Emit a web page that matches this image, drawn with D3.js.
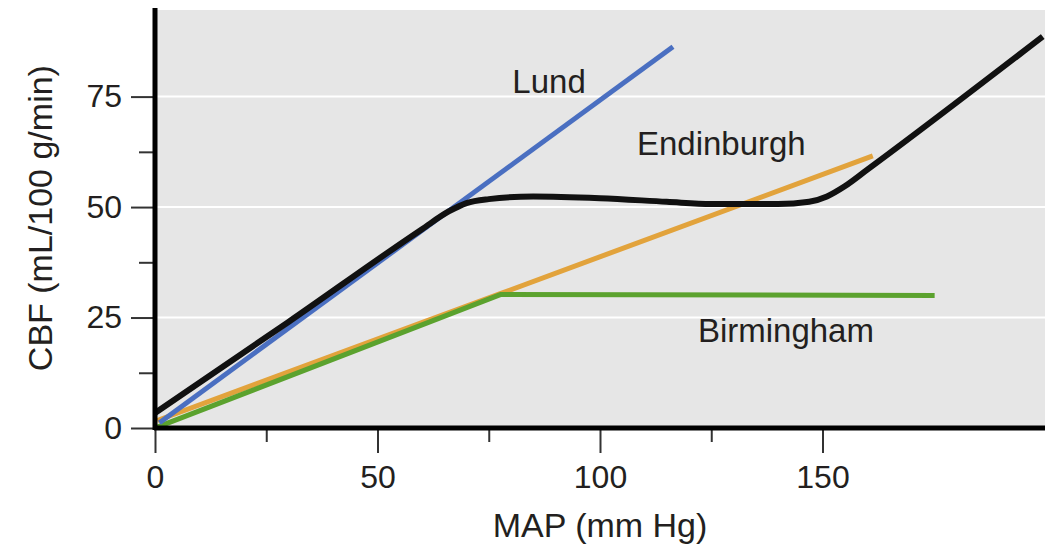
<!DOCTYPE html>
<html lang="en">
<head>
  <meta charset="UTF-8">
  <title>CBF vs MAP autoregulation</title>
  <script src="https://d3js.org/d3.v7.min.js"></script>
  <style>
    body {
      margin: 0;
      padding: 0;
      background: #fff;
    }
    svg text {
      font-family: "Liberation Sans", Arial, sans-serif;
      fill: #231f20;
    }
    .tick line {
      stroke: #333;
      stroke-width: 2;
    }
    .tick text {
      font-size: 32px;
    }
    .axis-title {
      font-size: 34px;
    }
    .series-label {
      font-size: 33px;
    }
  </style>
</head>
<body>
  <script>
    // tick values
    const xMajor = [0, 50, 100, 150];
    const xMinor = [25, 75, 125];
    const yMajor = [0, 25, 50, 75];
    const yMinor = [12.5, 37.5, 62.5];

    // curves, [MAP, CBF]
    const lund = [[1, 1.2], [116.4, 86.3]];
    const edinburgh = [[0.5, 1.7], [77.6, 30.4], [161.3, 61.6]];
    const birmingham = [[0.5, 0.2], [77.6, 30.2], [175.2, 30.0]];
    const observed = [
      [0, 3.4], [30, 24.0], [60, 45.0], [66, 49.0], [70, 50.9], [75, 51.8],
      [85, 52.4], [100, 52.0], [115, 51.2], [125, 50.7], [140, 50.7],
      [147, 51.2], [151, 52.4], [155, 54.7], [160, 58.4], [199.5, 88.6]
    ];

    const labels = [
      { text: "Lund", x: 80.3, y: 75.8 },
      { text: "Endinburgh", x: 108.3, y: 61.8 },
      { text: "Birmingham", x: 122, y: 19.5 }
    ];

    const width = 1053;
    const height = 545;
    const margin = { top: 10, right: 8, bottom: 117, left: 155 };

    const svg = d3.select("body")
      .append("svg")
      .attr("width", width)
      .attr("height", height);

    const x = d3.scaleLinear()
      .domain([0, 200])
      .range([margin.left, width - margin.right]);

    const y = d3.scaleLinear()
      .domain([0, 94.6])
      .range([height - margin.bottom, margin.top]);

    // plot background
    svg.append("rect")
      .attr("x", x(0))
      .attr("y", y(94.6))
      .attr("width", x(200) - x(0))
      .attr("height", y(0) - y(94.6))
      .attr("fill", "#e6e6e6");

    // white grid lines
    svg.append("g")
      .selectAll("line")
      .data(yMajor.slice(1))
      .join("line")
      .attr("x1", x(0))
      .attr("x2", x(200))
      .attr("y1", d => y(d))
      .attr("y2", d => y(d))
      .attr("stroke", "#fff")
      .attr("stroke-width", 2);

    // axes
    const xAxis = svg.append("g")
      .attr("transform", `translate(0,${y(0)})`)
      .call(d3.axisBottom(x).tickValues(xMajor).tickSize(25).tickPadding(12).tickFormat(d3.format("d")));
    xAxis.select(".domain").remove();

    const xAxisMinor = svg.append("g")
      .attr("transform", `translate(0,${y(0)})`)
      .call(d3.axisBottom(x).tickValues(xMinor).tickSize(14).tickFormat(""));
    xAxisMinor.select(".domain").remove();

    const yAxis = svg.append("g")
      .attr("transform", `translate(${x(0)},0)`)
      .call(d3.axisLeft(y).tickValues(yMajor).tickSize(24).tickPadding(9).tickFormat(d3.format("d")));
    yAxis.select(".domain").remove();

    const yAxisMinor = svg.append("g")
      .attr("transform", `translate(${x(0)},0)`)
      .call(d3.axisLeft(y).tickValues(yMinor).tickSize(16).tickFormat(""));
    yAxisMinor.select(".domain").remove();

    // curves (green over orange, black on top)
    const line = d3.line()
      .x(d => x(d[0]))
      .y(d => y(d[1]));

    const series = [
      { data: edinburgh, color: "#e2a33c", w: 5, curve: d3.curveLinear },
      { data: birmingham, color: "#5ba22e", w: 5, curve: d3.curveLinear },
      { data: lund, color: "#4a6fc1", w: 5, curve: d3.curveLinear },
      { data: observed, color: "#111", w: 6, curve: d3.curveMonotoneX }
    ];

    svg.append("g")
      .selectAll("path")
      .data(series)
      .join("path")
      .attr("d", d => line.curve(d.curve)(d.data))
      .attr("fill", "none")
      .attr("stroke", d => d.color)
      .attr("stroke-width", d => d.w)
      .attr("stroke-linejoin", "round");

    // thick axis lines
    svg.append("line")
      .attr("x1", x(0) - 1)
      .attr("x2", x(200))
      .attr("y1", y(0))
      .attr("y2", y(0))
      .attr("stroke", "#000")
      .attr("stroke-width", 5);

    svg.append("line")
      .attr("x1", x(0))
      .attr("x2", x(0))
      .attr("y1", y(94.6) - 2)
      .attr("y2", y(0) + 2)
      .attr("stroke", "#000")
      .attr("stroke-width", 5);

    // series labels
    svg.append("g")
      .selectAll("text")
      .data(labels)
      .join("text")
      .attr("class", "series-label")
      .attr("x", d => x(d.x))
      .attr("y", d => y(d.y))
      .text(d => d.text);

    // axis titles
    svg.append("text")
      .attr("class", "axis-title")
      .attr("x", x(100))
      .attr("y", 537)
      .attr("text-anchor", "middle")
      .text("MAP (mm Hg)");

    svg.append("text")
      .attr("class", "axis-title")
      .attr("transform", `translate(52,${y(47.5)}) rotate(-90)`)
      .attr("text-anchor", "middle")
      .text("CBF (mL/100 g/min)");
  </script>
</body>
</html>
